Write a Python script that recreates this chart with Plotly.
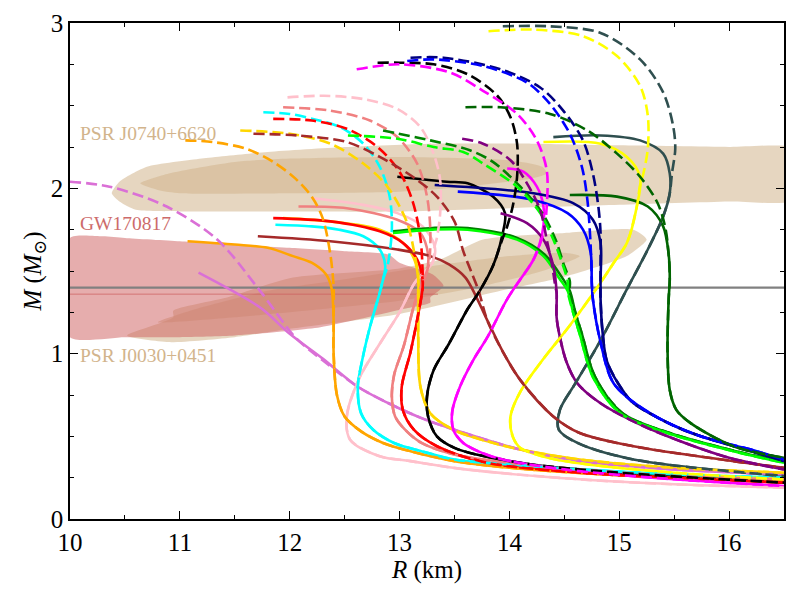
"""Mass-radius curves with PSR J0740, PSR J0030 and GW170817 constraints."""
import plotly.graph_objects as go

FONT = "Liberation Serif, DejaVu Serif, serif"

# ---------------- observational contours (R in km, M in Msun) ----------------
J0740_OUT_R = [10.38, 10.45, 10.7, 11.2, 11.8, 12.5, 13.3, 14.2, 15.0, 16.0, 16.6,
               16.6, 16.0, 15.0, 14.0, 13.0, 12.0, 11.0, 10.6, 10.45]
J0740_OUT_M = [1.97, 2.04, 2.13, 2.18, 2.22, 2.25, 2.27, 2.27, 2.26, 2.25, 2.24,
               1.93, 1.92, 1.90, 1.88, 1.86, 1.86, 1.86, 1.87, 1.92]
J0740_IN_R = [10.64, 10.9, 11.5, 12.0, 13.0, 14.0, 14.3, 14.34, 14.2, 13.6, 13.0, 12.0, 11.0, 10.8]
J0740_IN_M = [2.03, 2.09, 2.16, 2.18, 2.19, 2.17, 2.13, 2.09, 2.06, 2.01, 1.98, 1.97, 1.97, 1.99]

J0030_OUT_R = [10.52, 10.94, 10.94, 11.43, 12.03, 12.94, 13.37, 13.76, 14.5, 15.13, 15.25,
               15.07, 14.53, 13.92, 13.0, 12.0, 11.5, 10.9]
J0030_OUT_M = [1.11, 1.22, 1.26, 1.34, 1.46, 1.51, 1.57, 1.69, 1.73, 1.75, 1.69,
               1.59, 1.47, 1.38, 1.24, 1.15, 1.10, 1.07]
J0030_IN_R = [10.8, 11.5, 12.3, 13.0, 13.7, 14.3, 14.64, 14.5, 14.0, 13.3, 12.5, 11.8, 11.2]
J0030_IN_M = [1.19, 1.22, 1.27, 1.32, 1.40, 1.50, 1.59, 1.61, 1.59, 1.53, 1.45, 1.38, 1.28]

GW_R = [10.0, 10.3, 10.5, 11.0, 11.5, 12.0, 12.5, 12.9, 13.0, 13.3, 13.4, 13.28, 13.28,
        13.03, 12.28, 11.5, 11.0, 10.5, 10.0]
GW_M = [1.70, 1.71, 1.70, 1.68, 1.66, 1.64, 1.62, 1.60, 1.55, 1.48, 1.41, 1.34, 1.31,
        1.27, 1.16, 1.11, 1.10, 1.10, 1.10]

M_CANON = 1.4
M_GW_LINE = 1.36

# ---------------- mass-radius curves ----------------
ORANGE_R = [11.07, 11.5, 11.8, 12.03, 12.2, 12.33, 12.38, 12.40, 12.40, 12.43, 12.5, 12.65,
            12.85, 13.1, 13.5, 14.0, 14.6, 15.5, 16.5]
ORANGE_M = [1.68, 1.66, 1.64, 1.59, 1.55, 1.48, 1.40, 1.2, 1.0, 0.75, 0.62, 0.53,
            0.46, 0.41, 0.35, 0.31, 0.28, 0.25, 0.23]
ORANGE_DR = [11.05, 11.3, 11.6, 11.85, 12.05, 12.2, 12.3, 12.37, 12.40]
ORANGE_DM = [2.29, 2.28, 2.24, 2.16, 2.06, 1.95, 1.82, 1.6, 1.40]

ORCHID_R = [11.17, 11.45, 11.75, 12.0, 12.3, 12.62, 12.9, 13.2, 13.5, 14.1, 14.65, 15.5, 16.5]
ORCHID_M = [1.49, 1.39, 1.27, 1.12, 0.97, 0.80, 0.70, 0.61, 0.54, 0.42, 0.35, 0.30, 0.27]
ORCHID_DR = [10.0, 10.36, 10.88, 11.34, 11.73, 12.05, 12.3]
ORCHID_DM = [2.04, 2.01, 1.89, 1.69, 1.38, 1.10, 0.96]

CYAN_R = [11.87, 12.2, 12.45, 12.67, 12.82, 12.87, 12.85, 12.82, 12.73, 12.66, 12.62, 12.65,
          12.76, 12.95, 13.2, 13.5, 14.0, 14.65, 15.5, 16.5]
CYAN_M = [1.78, 1.77, 1.75, 1.71, 1.63, 1.53, 1.45, 1.37, 1.16, 0.96, 0.80, 0.64,
          0.54, 0.46, 0.41, 0.36, 0.33, 0.30, 0.27, 0.25]
CYAN_DR = [11.76, 12.0, 12.21, 12.46, 12.67, 12.82, 12.91, 12.93, 12.89]
CYAN_DM = [2.46, 2.45, 2.42, 2.37, 2.27, 2.13, 1.95, 1.75, 1.53]

RED_R = [11.85, 12.37, 12.82, 13.03, 13.16, 13.21, 13.21, 13.19, 13.10, 13.02, 13.03, 13.13,
         13.34, 13.8, 14.64, 15.5, 16.5]
RED_M = [1.82, 1.80, 1.74, 1.67, 1.57, 1.45, 1.40, 1.31, 1.01, 0.80, 0.66, 0.54,
         0.44, 0.34, 0.28, 0.25, 0.22]
RED_DR = [11.85, 12.2, 12.52, 12.8, 13.0, 13.12, 13.19, 13.21]
RED_DM = [2.42, 2.41, 2.36, 2.25, 2.1, 1.92, 1.7, 1.5]

GOLD_R = [11.94, 12.37, 12.82, 13.05, 13.14, 13.17, 13.17, 13.19, 13.28, 13.49, 13.8, 14.1,
          14.64, 15.5, 16.5]
GOLD_M = [1.82, 1.80, 1.75, 1.66, 1.56, 1.45, 1.10, 0.80, 0.64, 0.54, 0.47, 0.42,
          0.36, 0.31, 0.28]
GOLD_DR = [11.55, 12.0, 12.37, 12.67, 12.89, 13.07, 13.14, 13.17]
GOLD_DM = [2.35, 2.33, 2.27, 2.15, 2.01, 1.79, 1.59, 1.48]

BROWN_R = [11.71, 12.37, 12.98, 13.28, 13.45, 13.6, 13.8, 13.95, 14.1, 14.4, 14.64, 15.13,
           16.04, 16.5]
BROWN_M = [1.71, 1.68, 1.63, 1.59, 1.54, 1.46, 1.20, 1.0, 0.84, 0.62, 0.52, 0.44,
           0.35, 0.31]
BROWN_DR = [11.67, 12.07, 12.52, 12.82, 13.12, 13.34, 13.5, 13.58, 13.65, 13.72]
BROWN_DM = [2.33, 2.32, 2.28, 2.19, 2.07, 1.95, 1.8, 1.62, 1.5, 1.38]

SALMON_R = [12.08, 12.52, 12.98, 13.19, 13.26, 13.25, 13.14, 13.04, 12.95, 12.93, 12.96,
            13.05, 13.2, 13.5, 14.0, 14.64, 15.5, 16.5]
SALMON_M = [1.89, 1.88, 1.81, 1.73, 1.6, 1.5, 1.31, 1.05, 0.87, 0.74, 0.62,
            0.54, 0.46, 0.39, 0.34, 0.30, 0.26, 0.24]
SALMON_DR = [11.94, 12.37, 12.73, 12.98, 13.16, 13.25, 13.28, 13.27]
SALMON_DM = [2.49, 2.47, 2.41, 2.31, 2.15, 1.95, 1.75, 1.55]

PINK_R = [12.21, 12.67, 12.98, 13.21, 13.32, 13.30, 13.14, 13.0, 12.82, 12.64, 12.52, 12.55,
          12.82, 13.1, 13.6, 14.64, 15.5, 16.5]
PINK_M = [1.94, 1.90, 1.85, 1.77, 1.65, 1.55, 1.43, 1.25, 1.06, 0.86, 0.62, 0.48,
          0.38, 0.35, 0.30, 0.24, 0.21, 0.19]
PINK_DR = [11.98, 12.31, 12.67, 12.98, 13.19, 13.31, 13.37, 13.37, 13.34]
PINK_DM = [2.55, 2.56, 2.54, 2.48, 2.37, 2.21, 2.05, 1.85, 1.70]

BLACK_R = [12.98, 13.43, 13.62, 13.85, 13.96, 13.94, 13.85, 13.73, 13.62, 13.45, 13.31, 13.25,
           13.26, 13.34, 13.5, 13.7, 14.2, 15.0, 16.5]
BLACK_M = [2.07, 2.04, 2.03, 1.95, 1.85, 1.73, 1.53, 1.38, 1.27, 1.06, 0.90, 0.74,
           0.62, 0.50, 0.43, 0.39, 0.33, 0.28, 0.22]
BLACK_DR = [12.80, 13.0, 13.31, 13.62, 13.89, 14.01, 14.07, 14.07, 14.03, 13.97, 13.94]
BLACK_DM = [2.76, 2.76, 2.75, 2.69, 2.56, 2.43, 2.27, 2.07, 1.89, 1.75, 1.70]

MAGENTA_R = [13.98, 14.13, 14.25, 14.31, 14.30, 14.22, 14.1, 13.98, 13.8, 13.67, 13.55, 13.48,
             13.49, 13.58, 13.75, 13.94, 14.5, 15.5, 16.5]
MAGENTA_M = [2.12, 2.10, 2.01, 1.89, 1.73, 1.57, 1.45, 1.33, 1.10, 0.96, 0.80, 0.65,
             0.54, 0.46, 0.40, 0.36, 0.30, 0.24, 0.20]
MAGENTA_DR = [12.61, 13.0, 13.46, 13.76, 14.07, 14.25, 14.34, 14.34, 14.31]
MAGENTA_DM = [2.72, 2.75, 2.70, 2.59, 2.45, 2.29, 2.11, 1.89, 1.73]

LIME_R = [12.94, 13.3, 13.62, 14.07, 14.31, 14.46, 14.53, 14.58, 14.64, 14.76, 15.01, 15.44,
          16.04, 16.5]
LIME_M = [1.73, 1.75, 1.75, 1.69, 1.59, 1.45, 1.38, 1.25, 1.12, 0.86, 0.64, 0.52,
          0.41, 0.34]
LIME_DR = [12.53, 12.98, 13.31, 13.58, 13.76, 14.07, 14.28, 14.40, 14.49, 14.53]
LIME_DM = [2.32, 2.30, 2.25, 2.22, 2.15, 2.01, 1.85, 1.69, 1.53, 1.44]

GREEN_R = [12.94, 13.3, 13.62, 14.07, 14.32, 14.48, 14.55, 14.6, 14.66, 14.78, 15.03, 15.46,
           16.06, 16.5]
GREEN_M = [1.74, 1.76, 1.76, 1.70, 1.60, 1.46, 1.38, 1.25, 1.12, 0.86, 0.64, 0.52,
           0.41, 0.345]
GREEN_DR = [12.85, 13.28, 13.64, 13.85, 14.1, 14.3, 14.42, 14.5, 14.55]
GREEN_DM = [2.35, 2.29, 2.23, 2.16, 2.01, 1.85, 1.69, 1.53, 1.44]

PURPLE_R = [13.92, 14.16, 14.31, 14.40, 14.43, 14.43, 14.46, 14.52, 14.62, 14.83, 15.1,
            15.44, 16.0, 16.5]
PURPLE_M = [1.85, 1.79, 1.69, 1.53, 1.37, 1.22, 1.10, 0.95, 0.82, 0.70, 0.60,
            0.50, 0.37, 0.30]
PURPLE_DR = [13.57, 13.76, 14.01, 14.16, 14.28, 14.34, 14.39, 14.42]
PURPLE_DM = [2.30, 2.27, 2.17, 2.03, 1.87, 1.69, 1.53, 1.40]

BLUE_R = [13.53, 14.22, 14.53, 14.67, 14.74, 14.75, 14.76, 14.83, 14.95, 15.28, 15.74, 16.2, 16.5]
BLUE_M = [1.98, 1.93, 1.85, 1.75, 1.61, 1.43, 1.33, 1.07, 0.82, 0.64, 0.50, 0.42, 0.36]
BLUE_DR = [13.07, 13.31, 13.76, 14.16, 14.37, 14.55, 14.66, 14.71, 14.74, 14.75]
BLUE_DM = [2.77, 2.78, 2.74, 2.64, 2.51, 2.33, 2.13, 1.93, 1.65, 1.45]

NAVY_R = [13.32, 14.22, 14.58, 14.76, 14.83, 14.83, 14.83, 14.85, 14.89, 15.05, 15.13, 15.58,
          16.2, 16.5]
NAVY_M = [2.02, 1.97, 1.91, 1.81, 1.67, 1.45, 1.33, 1.12, 0.95, 0.76, 0.70, 0.54,
          0.41, 0.35]
NAVY_DR = [13.10, 13.40, 13.92, 14.28, 14.49, 14.67, 14.76, 14.81, 14.83, 14.83]
NAVY_DM = [2.79, 2.79, 2.72, 2.61, 2.47, 2.29, 2.09, 1.89, 1.73, 1.55]

YELLOW_R = [14.31, 14.83, 15.07, 15.19, 15.16, 15.07, 14.95, 14.80, 14.55, 14.3, 14.1, 14.01,
            14.03, 14.1, 14.3, 14.6, 15.5, 16.5]
YELLOW_M = [2.28, 2.27, 2.19, 2.07, 1.89, 1.67, 1.55, 1.40, 1.17, 0.96, 0.77, 0.62,
            0.50, 0.43, 0.38, 0.34, 0.28, 0.24]
YELLOW_DR = [13.81, 14.22, 14.67, 14.98, 15.19, 15.26, 15.26, 15.22, 15.19]
YELLOW_DM = [2.95, 2.96, 2.92, 2.80, 2.62, 2.44, 2.24, 2.09, 2.02]

SLATE_R = [14.40, 14.83, 15.19, 15.40, 15.46, 15.46, 15.40, 15.26, 15.07, 14.83, 14.6, 14.46,
           14.45, 14.62, 15.13, 16.5]
SLATE_M = [2.31, 2.32, 2.29, 2.21, 2.09, 1.97, 1.83, 1.63, 1.39, 1.08, 0.82, 0.66,
           0.54, 0.46, 0.36, 0.26]
SLATE_DR = [13.94, 14.37, 14.83, 15.19, 15.40, 15.49, 15.51, 15.48]
SLATE_DM = [2.98, 2.98, 2.94, 2.78, 2.58, 2.38, 2.24, 2.09]

DKGREEN_R = [14.55, 14.98, 15.26, 15.40, 15.45, 15.46, 15.45, 15.44, 15.46, 15.52, 15.65,
             16.04, 16.5]
DKGREEN_M = [1.96, 1.95, 1.89, 1.77, 1.6, 1.45, 1.33, 1.02, 0.78, 0.66, 0.58, 0.44, 0.37]
DKGREEN_DR = [13.60, 13.92, 14.37, 14.71, 14.98, 15.19, 15.35, 15.42]
DKGREEN_DM = [2.49, 2.49, 2.45, 2.35, 2.21, 2.07, 1.91, 1.76]

CURVES = [
    ("orchid", ORCHID_R, ORCHID_M, ORCHID_DR, ORCHID_DM),
    ("pink", PINK_R, PINK_M, PINK_DR, PINK_DM),
    ("orange", ORANGE_R, ORANGE_M, ORANGE_DR, ORANGE_DM),
    ("cyan", CYAN_R, CYAN_M, CYAN_DR, CYAN_DM),
    ("lightcoral", SALMON_R, SALMON_M, SALMON_DR, SALMON_DM),
    ("gold", GOLD_R, GOLD_M, GOLD_DR, GOLD_DM),
    ("red", RED_R, RED_M, RED_DR, RED_DM),
    ("brown", BROWN_R, BROWN_M, BROWN_DR, BROWN_DM),
    ("black", BLACK_R, BLACK_M, BLACK_DR, BLACK_DM),
    ("magenta", MAGENTA_R, MAGENTA_M, MAGENTA_DR, MAGENTA_DM),
    ("green", GREEN_R, GREEN_M, GREEN_DR, GREEN_DM),
    ("lime", LIME_R, LIME_M, LIME_DR, LIME_DM),
    ("purple", PURPLE_R, PURPLE_M, PURPLE_DR, PURPLE_DM),
    ("yellow", YELLOW_R, YELLOW_M, YELLOW_DR, YELLOW_DM),
    ("darkslategray", SLATE_R, SLATE_M, SLATE_DR, SLATE_DM),
    ("navy", NAVY_R, NAVY_M, NAVY_DR, NAVY_DM),
    ("blue", BLUE_R, BLUE_M, BLUE_DR, BLUE_DM),
    ("darkgreen", DKGREEN_R, DKGREEN_M, DKGREEN_DR, DKGREEN_DM),
]

TAN = "rgba(210,180,140,0.55)"
GWFILL = "rgba(205,92,92,0.5)"

fig = go.Figure()


def region(r, m, color):
    fig.add_trace(go.Scatter(x=r + r[:1], y=m + m[:1], mode="lines", fill="toself",
                             fillcolor=color, line=dict(width=0, shape="spline", smoothing=0.6),
                             hoverinfo="skip", showlegend=False))


region(J0740_OUT_R, J0740_OUT_M, TAN)
region(J0740_IN_R, J0740_IN_M, TAN)
region(J0030_OUT_R, J0030_OUT_M, TAN)
region(J0030_IN_R, J0030_IN_M, TAN)
region(GW_R, GW_M, GWFILL)

fig.add_trace(go.Scatter(x=[10, 13.35], y=[M_GW_LINE, M_GW_LINE], mode="lines",
                         line=dict(color="rgba(205,92,92,0.7)", width=1), showlegend=False))
fig.add_trace(go.Scatter(x=[10, 16.5], y=[M_CANON, M_CANON], mode="lines",
                         line=dict(color="gray", width=2.2), showlegend=False))

# solid curves first, dashed ones on top (the dashed branch follows the solid one below the split)
for col, r, m, dr, dm in CURVES:
    fig.add_trace(go.Scatter(x=r, y=m, mode="lines",
                             line=dict(color=col, width=2.6, shape="spline", smoothing=0.9),
                             showlegend=False))
for col, r, m, dr, dm in CURVES:
    tail = [(a, b) for a, b in zip(r, m) if b < dm[-1]]
    fig.add_trace(go.Scatter(x=dr + [a for a, _ in tail], y=dm + [b for _, b in tail],
                             mode="lines",
                             line=dict(color=col, width=2.6, dash="11px,5px",
                                       shape="spline", smoothing=0.9),
                             showlegend=False))

LABELS = [("PSR J0740+6620", 2.33, "#d2b48c"),
          ("GW170817", 1.79, "#cd6b6b"),
          ("PSR J0030+0451", 0.99, "#d2b48c")]
for txt, yy, col in LABELS:
    fig.add_annotation(x=10.07, y=yy, text=txt, showarrow=False, xanchor="left",
                       font=dict(family=FONT, size=19.5, color=col))

axis_common = dict(showline=True, linecolor="black", linewidth=1.5, mirror="ticks",
                   ticks="inside", ticklen=8, tickwidth=1.3, tickcolor="black",
                   showgrid=False, zeroline=False, automargin=False,
                   tickfont=dict(family=FONT, size=25, color="black"))
fig.update_xaxes(range=[10, 16.5], dtick=1, tick0=10,
                 minor=dict(dtick=0.5, ticks="inside", ticklen=4, tickcolor="black"),
                 title=dict(text="<i>R</i> (km)", font=dict(family=FONT, size=25, color="black"),
                            standoff=2),
                 **axis_common)
fig.update_yaxes(range=[0, 3], dtick=1, tick0=0,
                 minor=dict(dtick=0.25, ticks="inside", ticklen=4, tickcolor="black"),
                 title=dict(text="<i>M</i> (<i>M</i><sub>⊙</sub>)",
                            font=dict(family=FONT, size=25, color="black"), standoff=2),
                 **axis_common)
# page body adds an ~8px offset, margins compensate
fig.update_layout(width=797, height=600, margin=dict(l=62, r=21, t=15, b=89),
                  font=dict(family=FONT, color="black"),
                  plot_bgcolor="white", paper_bgcolor="white", showlegend=False)
fig.write_html("out.html")
